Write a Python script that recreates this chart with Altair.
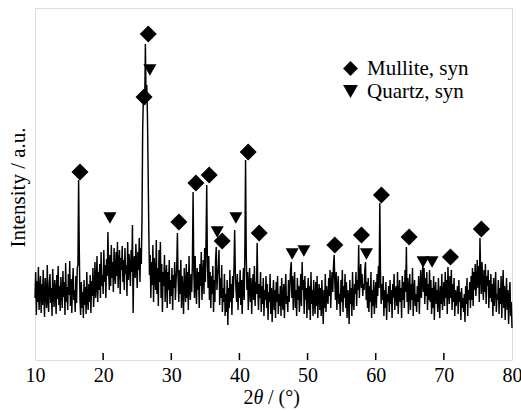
import altair as alt
import pandas as pd
import numpy as np

# XRD pattern, 2theta from 10 to 80 deg, one row per degree (0.1 deg steps)
intensity_rows = [
    [62, 88, 45, 79, 58, 93, 50, 71, 84, 47],     # 10
    [76, 55, 90, 64, 43, 82, 69, 52, 95, 60],     # 11
    [48, 77, 86, 57, 72, 44, 91, 66, 53, 80],     # 12
    [70, 46, 85, 61, 94, 55, 74, 49, 83, 67],     # 13
    [52, 89, 63, 78, 45, 97, 58, 73, 50, 86],     # 14
    [65, 99, 54, 81, 47, 75, 92, 60, 70, 48],     # 15
    [84, 57, 92, 95, 180, 110, 60, 45, 78, 52],   # 16
    [68, 42, 80, 55, 73, 46, 88, 61, 50, 76],     # 17
    [58, 85, 47, 79, 64, 92, 53, 71, 98, 62],     # 18
    [75, 104, 58, 88, 70, 96, 62, 108, 74, 85],   # 19
    [66, 110, 78, 95, 62, 101, 84, 128, 92, 70],  # 20
    [105, 74, 115, 82, 98, 68, 112, 88, 76, 108], # 21
    [84, 118, 72, 96, 110, 66, 102, 90, 114, 78], # 22
    [100, 70, 112, 86, 95, 64, 118, 80, 106, 92], # 23
    [74, 110, 88, 135, 47, 98, 104, 82, 116, 95], # 24
    [72, 108, 90, 122, 78, 112, 96, 140, 230, 262], # 25
    [262, 255, 316, 260, 275, 245, 190, 130, 85, 105], # 26
    [62, 98, 75, 115, 58, 102, 84, 70, 120, 66],  # 27
    [92, 54, 110, 78, 118, 62, 96, 48, 88, 74],   # 28
    [105, 58, 82, 95, 52, 88, 70, 100, 56, 80],   # 29
    [64, 92, 50, 85, 72, 98, 60, 78, 94, 127],    # 30
    [80, 58, 90, 66, 100, 52, 84, 70, 46, 92],    # 31
    [74, 58, 96, 62, 88, 50, 104, 72, 60, 86],    # 32
    [68, 98, 168, 90, 62, 104, 74, 56, 92, 70],   # 33
    [88, 52, 96, 74, 108, 60, 84, 100, 66, 112],  # 34
    [78, 120, 175, 96, 72, 104, 60, 88, 52, 84],  # 35
    [66, 94, 48, 80, 58, 100, 113, 70, 86, 92],   # 36
    [110, 55, 82, 62, 95, 48, 72, 58, 86, 44],    # 37
    [66, 48, 80, 35, 72, 52, 90, 58, 76, 45],     # 38
    [84, 62, 92, 130, 88, 70, 58, 86, 50, 78],    # 39
    [62, 90, 55, 80, 46, 74, 92, 60, 110, 200],   # 40
    [105, 70, 88, 50, 76, 92, 58, 82, 46, 72],    # 41
    [86, 60, 94, 54, 78, 66, 117, 70, 50, 76],    # 42
    [62, 88, 48, 74, 56, 82, 44, 70, 60, 84],     # 43
    [52, 76, 40, 68, 58, 86, 46, 72, 38, 64],     # 44
    [80, 50, 70, 42, 78, 58, 84, 46, 66, 54],     # 45
    [74, 44, 82, 60, 50, 76, 42, 68, 86, 56],     # 46
    [64, 48, 80, 58, 72, 90, 98, 62, 84, 50],     # 47
    [76, 88, 52, 70, 44, 82, 60, 74, 48, 66],     # 48
    [86, 54, 98, 70, 80, 46, 84, 60, 72, 42],     # 49
    [68, 82, 50, 74, 40, 88, 56, 70, 44, 80],     # 50
    [60, 46, 78, 54, 84, 42, 66, 76, 50, 72],     # 51
    [44, 80, 58, 36, 70, 52, 86, 48, 74, 62],     # 52
    [56, 82, 64, 90, 52, 76, 88, 68, 94, 105],    # 53
    [78, 60, 88, 50, 72, 84, 56, 66, 44, 80],     # 54
    [58, 90, 48, 74, 62, 86, 52, 78, 42, 70],     # 55
    [64, 36, 80, 56, 72, 44, 88, 60, 50, 76],     # 56
    [66, 88, 54, 80, 70, 115, 62, 84, 96, 72],    # 57
    [86, 64, 76, 70, 90, 98, 60, 78, 52, 82],     # 58
    [48, 74, 58, 88, 42, 70, 54, 80, 46, 66],     # 59
    [78, 52, 86, 64, 94, 72, 157, 88, 56, 76],    # 60
    [60, 84, 44, 70, 52, 78, 40, 66, 58, 74],     # 61
    [48, 80, 56, 70, 42, 76, 62, 86, 50, 68],     # 62
    [74, 54, 88, 46, 66, 80, 58, 72, 42, 84],     # 63
    [60, 78, 52, 90, 68, 113, 58, 82, 46, 72],    # 64
    [86, 50, 76, 60, 92, 44, 70, 80, 54, 66],     # 65
    [48, 74, 58, 84, 46, 70, 90, 62, 78, 94],     # 66
    [68, 92, 56, 82, 64, 88, 50, 76, 60, 90],     # 67
    [58, 80, 46, 72, 52, 84, 40, 68, 78, 56],     # 68
    [70, 48, 82, 60, 42, 74, 56, 86, 50, 66],     # 69
    [78, 54, 88, 62, 80, 46, 93, 68, 56, 84],     # 70
    [62, 90, 50, 76, 58, 82, 44, 70, 54, 64],     # 71
    [74, 46, 80, 58, 68, 40, 72, 52, 62, 48],     # 72
    [66, 38, 74, 56, 82, 44, 70, 60, 78, 52],     # 73
    [84, 60, 92, 54, 88, 70, 96, 64, 80, 100],    # 74
    [72, 94, 58, 122, 86, 66, 98, 76, 60, 90],    # 75
    [68, 96, 56, 84, 74, 90, 52, 80, 62, 86],     # 76
    [58, 76, 44, 82, 54, 70, 88, 48, 66, 60],     # 77
    [80, 46, 72, 56, 84, 42, 68, 90, 52, 74],     # 78
    [40, 64, 82, 50, 70, 36, 62, 78, 44, 58],     # 79
    [32],                                         # 80
]

mullite_x = [16.6, 26.0, 26.62, 31.12, 33.61, 35.56, 37.47, 41.28, 42.9, 54.0, 57.91, 60.84, 64.9, 70.97, 75.5]
mullite_y = [188, 263, 326, 138, 177, 185, 119, 208, 127, 115, 125, 165, 123, 103, 131]
quartz_x = [21.0, 26.86, 36.74, 39.48, 47.74, 49.46, 58.64, 66.95, 68.27]
quartz_y = [142, 290, 128, 142, 106, 109, 106, 98, 98]

x_ticks = [10, 20, 30, 40, 50, 60, 70, 80]
inner_ticks = [20, 30, 40, 50, 60, 70]
phases = ["Mullite, syn", "Quartz, syn"]

FONT = "Liberation Serif, Times New Roman, Times, serif"
W, H = 477, 352

vals = []
for r in intensity_rows:
    vals.extend(r)
two_theta = [round(10 + 0.1 * i, 1) for i in range(len(vals))]
pattern = pd.DataFrame({"tt": two_theta, "I": vals})

mullite_df = pd.DataFrame({"tt": mullite_x, "I": mullite_y, "phase": [phases[0]] * len(mullite_x)})
quartz_df = pd.DataFrame({"tt": quartz_x, "I": quartz_y, "phase": [phases[1]] * len(quartz_x)})
ticks_df = pd.DataFrame({"tt": inner_ticks})

xscale = alt.Scale(domain=[10, 80], nice=False, zero=False)
yscale = alt.Scale(domain=[0, 352], nice=False, zero=False)
shape_scale = alt.Scale(domain=phases, range=["diamond", "triangle-down"])
shape_legend = alt.Legend(title=None, orient="none", legendX=305, legendY=50,
                          labelFont=FONT, labelFontSize=21, labelColor="black",
                          symbolSize=220, symbolFillColor="black",
                          symbolStrokeColor="black", symbolStrokeWidth=0,
                          rowPadding=1, labelOffset=6)

xaxis = alt.Axis(values=x_ticks, title=None, domain=False, ticks=False, grid=False,
                 labelFont=FONT, labelFontSize=20, labelColor="black",
                 labelPadding=5, labelFlush=False, format="d")
yaxis = alt.Axis(title="Intensity / a.u.", labels=False, ticks=False, domain=False, grid=False,
                 titleFont=FONT, titleFontSize=21, titleFontWeight="normal", titleColor="black",
                 titleX=-11, titleY=179, titleBaseline="alphabetic")

line = alt.Chart(pattern).mark_line(color="black", strokeWidth=1.45).encode(
    x=alt.X("tt:Q", scale=xscale, axis=xaxis),
    y=alt.Y("I:Q", scale=yscale, axis=yaxis),
)

tick_rules = alt.Chart(ticks_df).mark_rule(color="black", strokeWidth=1.5).encode(
    x=alt.X("tt:Q", scale=xscale),
    y=alt.value(H - 7),
    y2=alt.value(H),
)

mullite_pts = alt.Chart(mullite_df).mark_point(filled=True, color="black", opacity=1, size=290).encode(
    x=alt.X("tt:Q", scale=xscale),
    y=alt.Y("I:Q", scale=yscale),
    shape=alt.Shape("phase:N", scale=shape_scale, legend=shape_legend),
)
quartz_pts = alt.Chart(quartz_df).mark_point(filled=True, color="black", opacity=1, size=170).encode(
    x=alt.X("tt:Q", scale=xscale),
    y=alt.Y("I:Q", scale=yscale),
    shape=alt.Shape("phase:N", scale=shape_scale, legend=shape_legend),
)

title_df = pd.DataFrame({"a": [0]})
t1 = alt.Chart(title_df).mark_text(font=FONT, fontSize=20, align="right", baseline="alphabetic", color="black").encode(
    x=alt.value(218.5), y=alt.value(396), text=alt.value("2"))
t2 = alt.Chart(title_df).mark_text(font=FONT, fontSize=20, fontStyle="italic", align="left", baseline="alphabetic", color="black").encode(
    x=alt.value(218.5), y=alt.value(396), text=alt.value("θ"))
t3 = alt.Chart(title_df).mark_text(font=FONT, fontSize=20, align="left", baseline="alphabetic", color="black").encode(
    x=alt.value(233), y=alt.value(396), text=alt.value("/ (°)"))

chart = alt.layer(line, tick_rules, mullite_pts, quartz_pts, t1, t2, t3).properties(
    width=W, height=H,
    autosize=alt.AutoSizeParams(type="none"),
    padding={"left": 35, "top": 8, "right": 9, "bottom": 52},
).configure_view(stroke="black", strokeWidth=1.5).configure(background="white")

chart.save("out.html", embed_options={"renderer": "svg", "actions": False})
